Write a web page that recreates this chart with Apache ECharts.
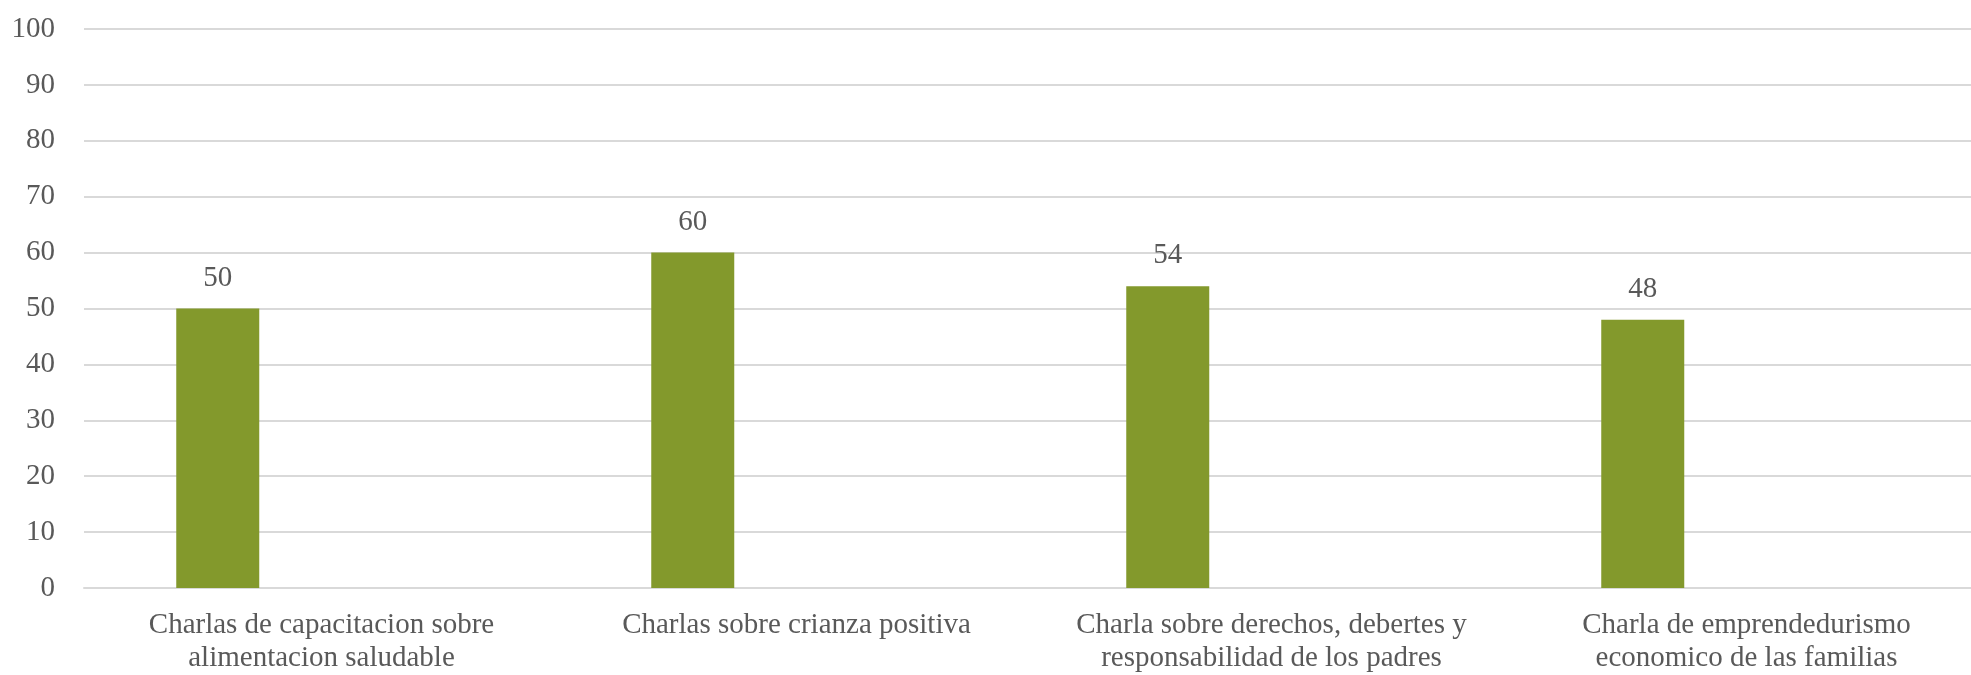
<!DOCTYPE html>
<html>
<head>
<meta charset="utf-8">
<script src="https://cdn.jsdelivr.net/npm/echarts@6/dist/echarts.min.js"></script>
<style>
  html, body { margin: 0; padding: 0; background: #fff; overflow: hidden; }
  /* wider than the window: the original plot runs past the right edge */
  #chart { width: 2000px; height: 675px; }
</style>
</head>
<body>
<div id="chart"></div>
<script>
const categories = [
  "Charlas de capacitacion sobre\nalimentacion saludable",
  "Charlas sobre crianza positiva",
  "Charla sobre derechos, debertes y\nresponsabilidad de los padres",
  "Charla de emprendedurismo\neconomico de las familias"
]
const values = [50, 60, 54, 48]
// second (empty) series keeps the bars shifted left like in the original
const emptyValues = ["-", "-", "-", "-"]
const yTicks = { min: 0, max: 100, interval: 10 }

const font = "'Liberation Serif', 'DejaVu Serif', serif"
const chart = echarts.init(document.getElementById("chart"))
chart.setOption({
  animation: false,
  grid: { left: 84, right: 16, top: 29, bottom: 87, containLabel: false },
  xAxis: {
    type: "category",
    data: categories,
    axisLine: { show: true, lineStyle: { color: "#d9d9d9", width: 2 } },
    axisTick: { show: false },
    axisLabel: {
      color: "#595959",
      fontFamily: font,
      fontSize: 29,
      lineHeight: 33,
      margin: 21,
      interval: 0
    }
  },
  yAxis: {
    type: "value",
    min: yTicks.min,
    max: yTicks.max,
    interval: yTicks.interval,
    axisLine: { show: false },
    axisTick: { show: false },
    splitLine: { lineStyle: { color: "#d9d9d9", width: 2 } },
    axisLabel: {
      color: "#595959",
      fontFamily: font,
      fontSize: 29,
      margin: 29
    }
  },
  series: [
    {
      type: "bar",
      data: values,
      barWidth: 83,
      barGap: "150%",
      itemStyle: { color: "#83992c" },
      label: {
        show: true,
        position: "top",
        distance: 16,
        color: "#595959",
        fontFamily: font,
        fontSize: 29
      }
    },
    {
      type: "bar",
      data: emptyValues,
      barWidth: 83,
      itemStyle: { color: "#83992c" }
    }
  ]
})
</script>
</body>
</html>
